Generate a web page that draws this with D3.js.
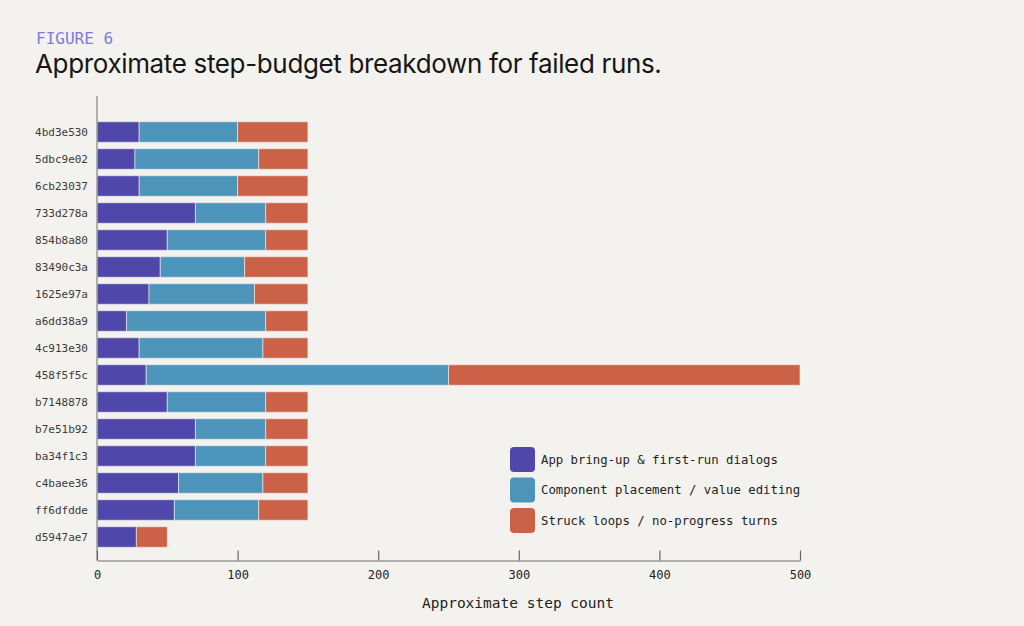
<!DOCTYPE html>
<html>
<head>
<meta charset="utf-8">
<script src="https://cdn.jsdelivr.net/npm/d3@7"></script>
<style>
  body { margin: 0; background: #f4f2ee; }
  svg { display: block; }
</style>
</head>
<body>
<div id="chart"></div>
<script>
// run ids, top to bottom
const runs = ["4bd3e530", "5dbc9e02", "6cb23037", "733d278a", "854b8a80", "83490c3a", "1625e97a", "a6dd38a9",
    "4c913e30", "458f5f5c", "b7148878", "b7e51b92", "ba34f1c3", "c4baee36", "ff6dfdde", "d5947ae7"];

// step counts per phase
const bringUp = [30, 27, 30, 70, 50, 45, 37, 21, 30, 35, 50, 70, 70, 58, 55, 28];
const placement = [70, 88, 70, 50, 70, 60, 75, 99, 88, 215, 70, 50, 50, 60, 60, 0];
const stuck = [50, 35, 50, 30, 30, 45, 38, 30, 32, 250, 30, 30, 30, 32, 35, 22];

const seriesNames = ["App bring-up & first-run dialogs", "Component placement / value editing", "Struck loops / no-progress turns"];
const seriesColors = ["#4f47a9", "#4d94ba", "#cb6247"];
const xTicks = [0, 100, 200, 300, 400, 500];

const W = 1024, H = 626;
const mono = "'DejaVu Sans Mono', monospace";

const svg = d3.select("#chart").append("svg")
    .attr("width", W)
    .attr("height", H);

svg.append("rect").attr("width", W).attr("height", H).attr("fill", "#f4f2ee");

// header
svg.append("text")
    .attr("x", 36).attr("y", 44)
    .attr("font-family", mono)
    .attr("font-size", "16px")
    .attr("fill", "#7d7ae0")
    .text("FIGURE 6");

svg.append("text")
    .attr("x", 35).attr("y", 73)
    .attr("font-family", "Inter, sans-serif")
    .attr("font-size", "26px")
    .attr("letter-spacing", "-0.35px")
    .attr("fill", "#161616")
    .text("Approximate step-budget breakdown for failed runs.");

// table for stacking
const table = runs.map((r, i) => ({ run: r, a: bringUp[i], b: placement[i], c: stuck[i] }));
const stacked = d3.stack().keys(["a", "b", "c"])(table);

const x = d3.scaleLinear().domain([0, 500]).range([97, 800]);
const y = d3.scaleBand().domain(runs).range([118.5, 550.5]).paddingInner(0.24).paddingOuter(0.12);

// bars
svg.append("g").selectAll("g")
    .data(stacked)
    .join("g")
    .attr("fill", (d, i) => seriesColors[i])
    .selectAll("rect")
    .data(d => d.filter(s => s[1] - s[0] > 0))
    .join("rect")
    .attr("x", d => x(d[0]))
    .attr("y", d => y(d.data.run))
    .attr("width", d => x(d[1]) - x(d[0]))
    .attr("height", y.bandwidth())
    .attr("stroke", "#f4f2ee")
    .attr("stroke-opacity", 0.6)
    .attr("stroke-width", 1);

// y labels
svg.append("g").selectAll("text")
    .data(runs)
    .join("text")
    .attr("x", 88)
    .attr("y", d => y(d) + y.bandwidth() / 2)
    .attr("dy", "0.35em")
    .attr("text-anchor", "end")
    .attr("font-family", mono)
    .attr("font-size", "11px")
    .attr("fill", "#3a3a3a")
    .text(d => d);

// axis lines
svg.append("line")
    .attr("x1", 97).attr("x2", 97).attr("y1", 96).attr("y2", 560.5)
    .attr("stroke", "#9a9a9a").attr("stroke-width", 1.5);

const xAxis = svg.append("g")
    .attr("transform", "translate(0,560.5)")
    .call(d3.axisBottom(x).tickValues(xTicks).tickSizeInner(-10).tickSizeOuter(0).tickPadding(10));
xAxis.select(".domain").attr("stroke", "#9a9a9a").attr("stroke-width", 1.5);
xAxis.selectAll(".tick line").attr("stroke", "#666").attr("stroke-width", 1.2);
xAxis.selectAll(".tick text")
    .attr("font-family", mono)
    .attr("font-size", "12px")
    .attr("fill", "#222");

svg.append("text")
    .attr("x", 518).attr("y", 608)
    .attr("text-anchor", "middle")
    .attr("font-family", mono)
    .attr("font-size", "14.5px")
    .attr("fill", "#222")
    .text("Approximate step count");

// legend
const legend = svg.append("g").attr("transform", "translate(510,447)");
const items = legend.selectAll("g")
    .data(seriesNames)
    .join("g")
    .attr("transform", (d, i) => `translate(0,${i * 30.5})`);
items.append("rect")
    .attr("width", 25).attr("height", 25).attr("rx", 4)
    .attr("fill", (d, i) => seriesColors[i]);
items.append("text")
    .attr("x", 31).attr("y", 12.5).attr("dy", "0.35em")
    .attr("font-family", mono)
    .attr("font-size", "12.3px")
    .attr("fill", "#222")
    .text(d => d);
</script>
</body>
</html>
